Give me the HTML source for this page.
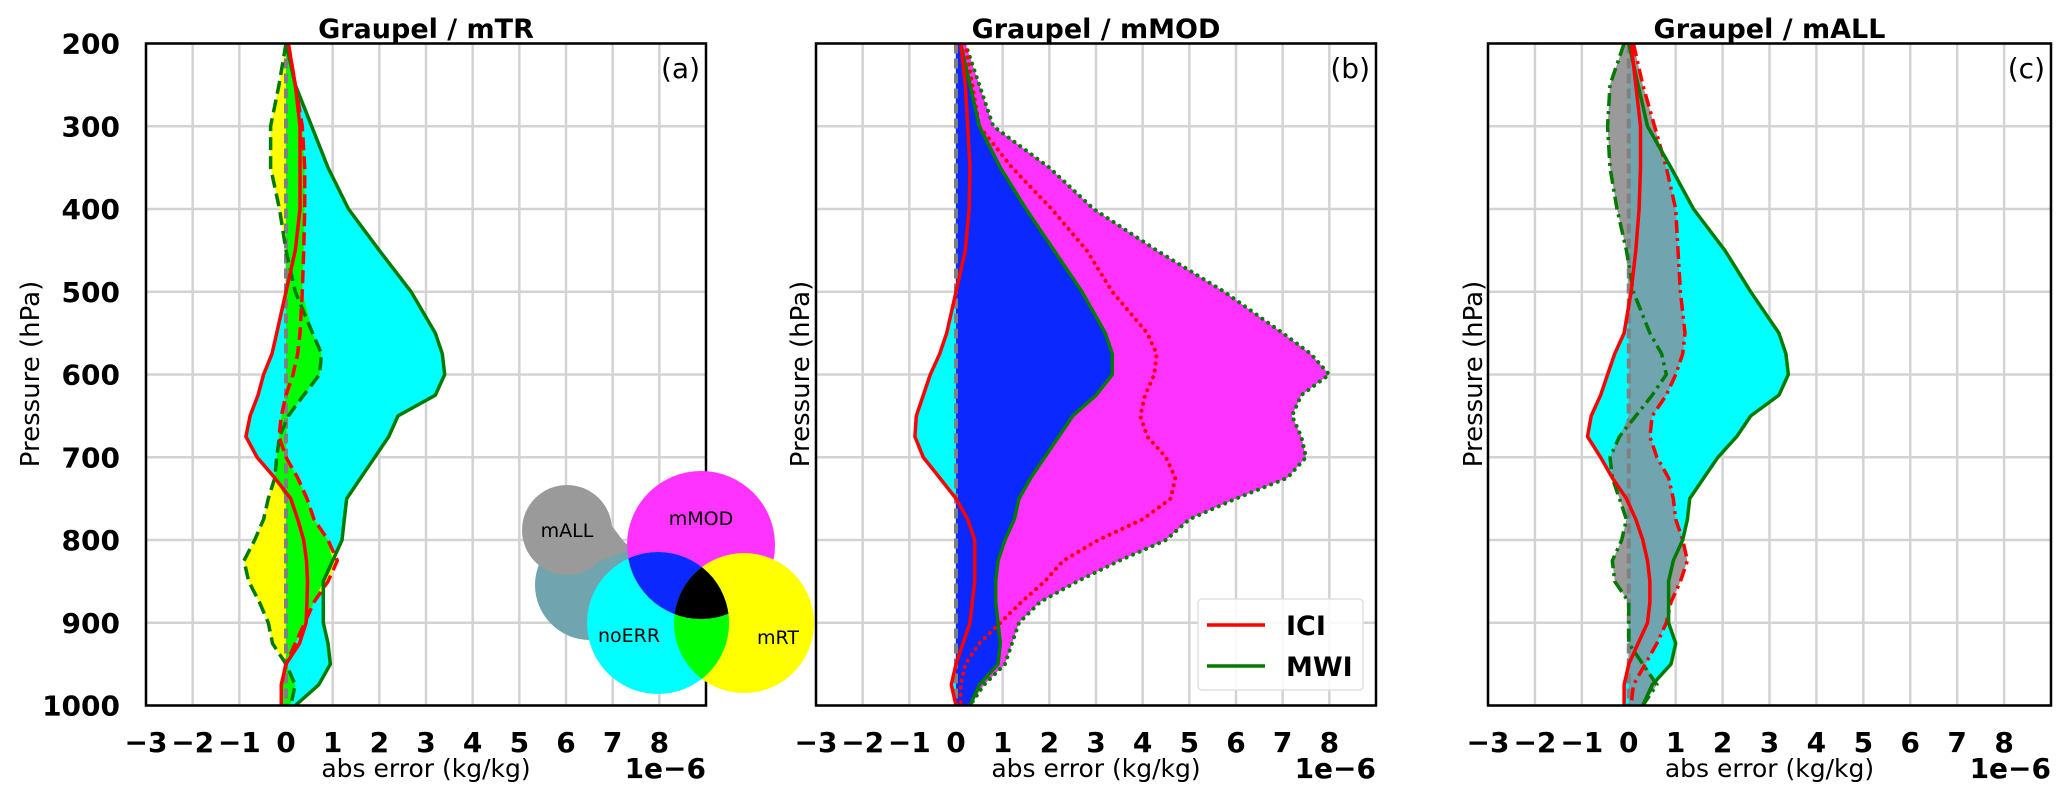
<!DOCTYPE html>
<html><head><meta charset="utf-8">
<style>
html,body{margin:0;padding:0;background:#fff;}
svg{display:block;font-family:"DejaVu Sans","Liberation Sans",sans-serif;}
</style></head>
<body>
<svg id="fig" width="2067" height="803" viewBox="0 0 2067 803" xmlns="http://www.w3.org/2000/svg"></svg>
<script>
// ---------- data ----------
const levels = [200,250,300,350,400,450,500,550,575,600,625,650,675,700,725,750,775,800,825,850,875,900,925,950,975,1000];
const xTicks = [-3,-2,-1,0,1,2,3,4,5,6,7,8];
const yTicks = [200,300,400,500,600,700,800,900,1000];
// panel a (mTR)
const iciNoErrA = [0.05,0.2,0.3,0.3,0.3,0.2,0.0,-0.2,-0.3,-0.48,-0.6,-0.77,-0.86,-0.62,-0.24,0.1,0.25,0.38,0.44,0.46,0.45,0.43,0.29,0.0,-0.1,-0.1];
const mwiNoErrA = [0.0,0.2,0.55,0.9,1.34,2.0,2.68,3.2,3.35,3.4,3.2,2.4,2.2,1.9,1.6,1.3,1.25,1.2,1.0,0.8,0.8,0.8,0.9,0.95,0.7,0.2];
const iciTrA = [0.05,0.2,0.35,0.4,0.4,0.38,0.35,0.3,0.25,0.15,0.0,-0.1,-0.15,0.0,0.25,0.45,0.6,0.9,1.1,0.9,0.6,0.4,0.2,0.0,-0.1,-0.1];
const mwiTrA = [0.0,-0.15,-0.33,-0.33,-0.14,0.0,0.2,0.57,0.76,0.72,0.38,0.05,-0.14,-0.2,-0.24,-0.38,-0.48,-0.67,-0.9,-0.8,-0.57,-0.38,-0.29,0.0,0.2,0.1];
// panel b (mMOD)
const iciNoErrB = [0.1,0.2,0.25,0.3,0.28,0.2,0.0,-0.2,-0.35,-0.55,-0.7,-0.85,-0.88,-0.7,-0.35,0.0,0.25,0.4,0.4,0.4,0.35,0.3,0.15,0.0,-0.1,0.0];
const mwiNoErrB = [0.1,0.3,0.5,0.95,1.5,2.1,2.7,3.2,3.35,3.35,3.0,2.5,2.2,1.9,1.6,1.35,1.25,1.05,0.9,0.85,0.85,0.9,0.95,0.9,0.5,0.3];
const iciModB = [0.2,0.35,0.5,1.2,2.05,2.8,3.35,4.1,4.3,4.25,4.05,3.95,4.1,4.5,4.7,4.6,4.0,3.05,2.3,1.9,1.4,0.95,0.5,0.2,0.1,0.1];
const mwiModB = [0.2,0.5,0.8,2.0,2.95,4.3,5.75,7.0,7.6,8.0,7.4,7.2,7.4,7.5,7.1,6.0,5.0,4.5,3.5,2.6,1.8,1.35,1.2,1.05,0.6,0.3];
// panel c (mALL)
const iciNoErrC = [0.05,0.15,0.25,0.25,0.22,0.15,0.05,-0.1,-0.3,-0.45,-0.6,-0.8,-0.88,-0.6,-0.35,-0.05,0.15,0.3,0.4,0.45,0.45,0.4,0.2,0.0,-0.1,-0.1];
const mwiNoErrC = [0.0,0.2,0.4,0.9,1.38,2.05,2.6,3.2,3.35,3.4,3.2,2.6,2.3,1.9,1.6,1.3,1.25,1.15,0.95,0.85,0.85,0.85,1.0,0.9,0.5,0.3];
const iciAllC = [0.1,0.3,0.55,0.8,1.0,1.05,1.1,1.2,1.15,1.0,0.8,0.5,0.45,0.6,0.85,0.95,1.0,1.15,1.25,1.1,0.9,0.8,0.6,0.35,0.1,0.05];
const mwiAllC = [-0.1,-0.4,-0.45,-0.4,-0.25,-0.05,0.1,0.45,0.7,0.8,0.5,0.15,-0.2,-0.4,-0.35,-0.2,-0.05,-0.15,-0.35,-0.3,0.0,0.0,0.0,0.3,0.6,0.3];

// ---------- layout ----------
const NS = "http://www.w3.org/2000/svg";
const fig = document.getElementById('fig');
const TOP = 43.5, BOT = 705.5, XMIN = -3, XMAX = 9;
function mk(tag, attrs, parent){ const e=document.createElementNS(NS,tag); for(const k in attrs) e.setAttribute(k,attrs[k]); (parent||fig).appendChild(e); return e; }
function yScale(p){ return TOP + (p-200)/800*(BOT-TOP); }

const panelDefs = [
 {left:146,right:706,title:'Graupel / mTR',tag:'(a)',ylab:29,
  noErr:[iciNoErrA,mwiNoErrA], exp:[iciTrA,mwiTrA], expCol:'#ffff00', ovCol:'#00ff00', dash:'13,6', key:'a'},
 {left:816,right:1376,title:'Graupel / mMOD',tag:'(b)',ylab:799,
  noErr:[iciNoErrB,mwiNoErrB], exp:[iciModB,mwiModB], expCol:'#ff33ff', ovCol:'#0a28ff', dash:'0.1,7', key:'b'},
 {left:1488,right:2051,title:'Graupel / mALL',tag:'(c)',ylab:1472,
  noErr:[iciNoErrC,mwiNoErrC], exp:[iciAllC,mwiAllC], expCol:'#9a9a9a', ovCol:'#70a4ae', dash:'13,5,3,5', key:'c'}
];

function envelope(a,b){ return levels.map((p,i)=>[Math.min(a[i],b[i],0),Math.max(a[i],b[i],0)]); }
function bandPath(env,xs){
  let d='';
  levels.forEach((p,i)=>{ d+=(i?'L':'M')+xs(env[i][0]).toFixed(1)+','+yScale(p).toFixed(1); });
  for(let i=levels.length-1;i>=0;i--) d+='L'+xs(env[i][1]).toFixed(1)+','+yScale(levels[i]).toFixed(1);
  return d+'Z';
}
function linePath(vals,xs){ return levels.map((p,i)=>(i?'L':'M')+xs(vals[i]).toFixed(1)+','+yScale(p).toFixed(1)).join(''); }

panelDefs.forEach((pd,pi)=>{
  const xs = v => pd.left + (v-XMIN)/(XMAX-XMIN)*(pd.right-pd.left);
  const g = mk('g',{});
  
  
  const cid='clip'+pd.key;
  const cp = mk('clipPath',{id:cid},g);
  mk('rect',{x:pd.left,y:TOP,width:pd.right-pd.left,height:BOT-TOP},cp);
  const grid = mk('g',{stroke:'#d3d3d3','stroke-width':2.5},g);
  
  
  xTicks.forEach(t=>mk('line',{x1:xs(t),x2:xs(t),y1:TOP,y2:BOT},grid));
  yTicks.forEach(t=>mk('line',{x1:pd.left,x2:pd.right,y1:yScale(t),y2:yScale(t)},grid));
  const plot = mk('g',{'clip-path':'url(#'+cid+')'},g);
  const e1 = envelope(pd.noErr[0],pd.noErr[1]);
  const e2 = envelope(pd.exp[0],pd.exp[1]);
  const ov = e1.map((r,i)=>{ const lo=Math.max(r[0],e2[i][0]); let hi=Math.min(r[1],e2[i][1]); if(hi<lo) hi=lo; return [lo,hi]; });
  const f1=mk('path',{d:bandPath(e1,xs),fill:'#00ffff'},plot);
  
  
  const f2=mk('path',{d:bandPath(e2,xs),fill:pd.expCol},plot);
  
  
  const f3=mk('path',{d:bandPath(ov,xs),fill:pd.ovCol},plot);
  
  
  const z=mk('line',{x1:xs(0),x2:xs(0),y1:TOP,y2:BOT,stroke:'#808080','stroke-width':4,'stroke-dasharray':'10,5'},plot);
  
  
  const specs=[[pd.exp[1],'#007a00',pd.dash,'mwi-experiment'],[pd.exp[0],'#ff0000',pd.dash,'ici-experiment'],
               [pd.noErr[1],'#007a00',null,'mwi-noerr'],[pd.noErr[0],'#ff0000',null,'ici-noerr']];
  specs.forEach(s=>{
    const a={d:linePath(s[0],xs),fill:'none',stroke:s[1],'stroke-width':3.5,'stroke-linejoin':'round'};
    if(s[2]){a['stroke-dasharray']=s[2]; if(pd.key==='b'){a['stroke-linecap']='round';a['stroke-width']=4;}}
    const l=mk('path',a,plot);
    
    
  });
  const fr=mk('rect',{x:pd.left,y:TOP,width:pd.right-pd.left,height:BOT-TOP,fill:'none',stroke:'#000','stroke-width':2.5},g);
  
  
  xTicks.forEach(t=>{
    const tx=mk('text',{x:xs(t),y:752,'text-anchor':'middle','font-size':28,'font-weight':'bold'},g);
    tx.textContent=(t<0?'\u2212'+(-t):String(t));
    
    
  });
  if(pi===0){
    yTicks.forEach(t=>{
      const ty=mk('text',{x:pd.left-26,y:yScale(t)+10,'text-anchor':'end','font-size':28,'font-weight':'bold'},g);
      ty.textContent=String(t);
      
      
    });
  }
  const xl=mk('text',{x:(pd.left+pd.right)/2,y:777,'text-anchor':'middle','font-size':25},g);
  xl.textContent='abs error (kg/kg)';
  
  
  const off=mk('text',{x:pd.right,y:778,'text-anchor':'end','font-size':28,'font-weight':'bold'},g);
  off.textContent='1e\u22126';
  
  
  const yl=mk('text',{x:0,y:0,'text-anchor':'middle','font-size':26,transform:'translate('+(pd.ylab+10)+',374) rotate(-90)'},g);
  yl.textContent='Pressure (hPa)';
  
  
  const ti=mk('text',{x:(pd.left+pd.right)/2,y:38,'text-anchor':'middle','font-size':27,'font-weight':'bold'},g);
  ti.textContent=pd.title;
  
  
  const tg=mk('text',{x:pd.right-6,y:78,'text-anchor':'end','font-size':28},g);
  tg.textContent=pd.tag;
  
  
});
</script>
<svg style="position:absolute;left:0;top:0" width="2067" height="803" viewBox="0 0 2067 803" xmlns="http://www.w3.org/2000/svg" font-family="DejaVu Sans, Liberation Sans, sans-serif">
  <defs>
    <clipPath id="cMag"><circle cx="701" cy="545" r="74"/></clipPath>
    <clipPath id="cYel"><circle cx="744" cy="623" r="70"/></clipPath>
  </defs>
  <circle cx="590" cy="585" r="55" fill="#70a4ae"/>
  <path d="M630,550 L585,490 L560,575 Z" fill="#9a9a9a"/>
  <circle cx="567" cy="530" r="45" fill="#9a9a9a"/>
  <circle cx="701" cy="545" r="74" fill="#ff33ff"/>
  <circle cx="744" cy="623" r="70" fill="#ffff00"/>
  <circle cx="658" cy="623" r="71" fill="#00ffff"/>
  <circle cx="658" cy="623" r="71" fill="#0a28ff" clip-path="url(#cMag)"/>
  <circle cx="658" cy="623" r="71" fill="#00ff00" clip-path="url(#cYel)"/>
  <g clip-path="url(#cMag)"><circle cx="658" cy="623" r="71" fill="#000" clip-path="url(#cYel)"/></g>
  <text x="567" y="537" text-anchor="middle" font-size="19">mALL</text>
  <text x="701" y="525" text-anchor="middle" font-size="19">mMOD</text>
  <text x="629" y="642" text-anchor="middle" font-size="19">noERR</text>
  <text x="778" y="644" text-anchor="middle" font-size="19">mRT</text>
  <g>
    <rect x="1198" y="599" width="165" height="91" rx="4" fill="#fff" fill-opacity="0.85" stroke="#e0e0e0" stroke-width="1.5"/>
    <line x1="1207" y1="625" x2="1265" y2="625" stroke="#ff0000" stroke-width="3.5"/>
    <text x="1286" y="635" font-size="27" font-weight="bold">ICI</text>
    <line x1="1207" y1="666" x2="1265" y2="666" stroke="#007a00" stroke-width="3.5"/>
    <text x="1286" y="676" font-size="27" font-weight="bold">MWI</text>
  </g>
</svg>
</body></html>
